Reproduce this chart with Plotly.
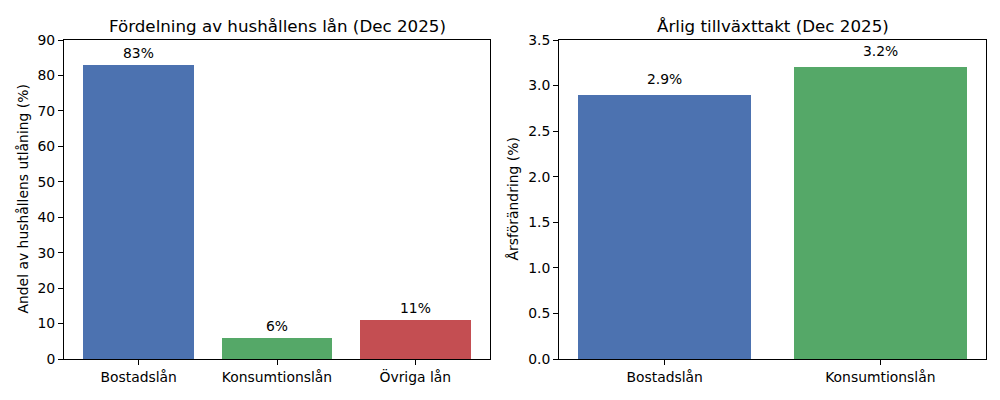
import plotly.graph_objects as go

# Data
left_categories = ["Bostadslån", "Konsumtionslån", "Övriga lån"]
left_values = [83, 6, 11]
left_labels = ["83%", "6%", "11%"]

right_categories = ["Bostadslån", "Konsumtionslån"]
right_values = [2.9, 3.2]
right_labels = ["2.9%", "3.2%"]

left_title = "Fördelning av hushållens lån (Dec 2025)"
right_title = "Årlig tillväxttakt (Dec 2025)"
left_ylabel = "Andel av hushållens utlåning (%)"
right_ylabel = "Årsförändring (%)"

blue, green, red = "#4C72B0", "#55A868", "#C44E52"
FONT = "DejaVu Sans"
TICK = 13.9
TITLE = 16.7

fig = go.Figure()
fig.add_trace(go.Bar(x=list(range(len(left_categories))), y=left_values,
                     marker=dict(color=[blue, green, red], line=dict(width=0)),
                     width=0.8, xaxis="x", yaxis="y", showlegend=False, hoverinfo="skip"))
fig.add_trace(go.Bar(x=list(range(len(right_categories))), y=right_values,
                     marker=dict(color=[blue, green], line=dict(width=0)),
                     width=0.8, xaxis="x2", yaxis="y2", showlegend=False, hoverinfo="skip"))

annotations = []
for i, (v, t) in enumerate(zip(left_values, left_labels)):
    annotations.append(dict(x=i, y=v + 1, xref="x", yref="y", text=t, showarrow=False,
                            xanchor="center", yanchor="bottom", yshift=-2,
                            font=dict(size=TICK, color="black", family=FONT)))
for i, (v, t) in enumerate(zip(right_values, right_labels)):
    annotations.append(dict(x=i, y=v + 0.1, xref="x2", yref="y2", text=t, showarrow=False,
                            xanchor="center", yanchor="bottom", yshift=-3,
                            font=dict(size=TICK, color="black", family=FONT)))

ldom = [0.064, 0.490]
rdom = [0.559, 0.986]
ydom = [1 - 359 / 400, 1 - 40 / 400]
annotations.append(dict(x=sum(ldom) / 2, y=1 - 26 / 400, xref="paper", yref="paper", text=left_title,
                        showarrow=False, xanchor="center", yanchor="middle",
                        font=dict(size=TITLE, color="black", family=FONT)))
annotations.append(dict(x=sum(rdom) / 2, y=1 - 26 / 400, xref="paper", yref="paper", text=right_title,
                        showarrow=False, xanchor="center", yanchor="middle",
                        font=dict(size=TITLE, color="black", family=FONT)))
annotations.append(dict(x=22 / 1000, y=sum(ydom) / 2, xref="paper", yref="paper", text=left_ylabel,
                        showarrow=False, textangle=-90, xanchor="center", yanchor="middle",
                        font=dict(size=TICK, color="black", family=FONT)))
annotations.append(dict(x=512 / 1000, y=sum(ydom) / 2, xref="paper", yref="paper", text=right_ylabel,
                        showarrow=False, textangle=-90, xanchor="center", yanchor="middle",
                        font=dict(size=TICK, color="black", family=FONT)))

axis_common = dict(showline=True, linecolor="black", linewidth=1, mirror=True,
                   ticks="outside", ticklen=5, tickcolor="black", showgrid=False,
                   zeroline=False, automargin=False,
                   tickfont=dict(size=TICK, color="black", family=FONT))

fig.update_layout(
    width=1000, height=400,
    margin=dict(l=0, r=0, t=0, b=0, pad=0, autoexpand=False),
    paper_bgcolor="white", plot_bgcolor="white",
    font=dict(family=FONT, color="black"),
    bargap=0,
    xaxis=dict(domain=ldom, range=[-0.54, 2.54], tickmode="array",
               tickvals=list(range(len(left_categories))), ticktext=left_categories,
               anchor="y", **axis_common),
    yaxis=dict(domain=ydom, range=[0, 90], dtick=10, anchor="x", **axis_common),
    xaxis2=dict(domain=rdom, range=[-0.49, 1.49], tickmode="array",
                tickvals=list(range(len(right_categories))), ticktext=right_categories,
                anchor="y2", **axis_common),
    yaxis2=dict(domain=ydom, range=[0, 3.5], dtick=0.5, tickformat=".1f", anchor="x2", **axis_common),
    annotations=annotations,
)

fig.write_html("out.html", config={"displayModeBar": False},
               post_script="document.body.style.margin='0';document.body.style.overflow='hidden';")
